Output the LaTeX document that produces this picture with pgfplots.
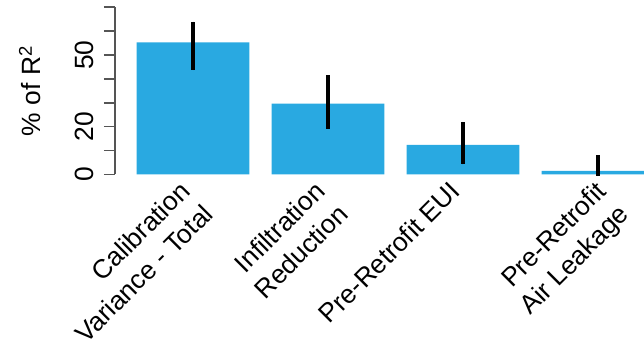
\documentclass[border=0pt]{standalone}
\usepackage{fontspec}
\setmainfont{Liberation Sans}
\usepackage{pgfplots}
\pgfplotsset{compat=1.18}
\usetikzlibrary{calc}
\definecolor{barblue}{RGB}{41,169,225}
\definecolor{axgray}{RGB}{85,85,85}
\begin{document}
\begin{tikzpicture}
\begin{axis}[
  width=264.5pt, height=88.3pt, scale only axis,
  xmin=-0.578, xmax=3.341, ymin=-2, ymax=72,
  axis line style={draw=none},
  tick pos=left,
  ytick={0,10,...,70},
  yticklabels={0,,20,,,50,,},
  xtick={-0.11,0.89,1.89,2.97},
  xticklabels={Calibration\\Variance - Total, Infiltration\\Reduction, Pre-Retrofit EUI, Pre-Retrofit\\Air Leakage},
  xtick style={draw=none},
  ytick style={draw=axgray, line width=0.8pt},
  tick align=outside,
  major tick length=5.5pt,
  font=\fontsize{13.2}{16.2}\selectfont,
  /pgf/number format/assume math mode=true,
  yticklabel style={rotate=90, anchor=south, inner sep=0pt},
  yticklabel shift=5pt,
  xticklabel style={rotate=45, anchor=north east, align=right, inner sep=0pt},
  xticklabel shift=-5.5pt,
  ylabel={\% of R\textsuperscript{2}},
  ylabel style={at={($(axis description cs:0,0.5)+(-42.5pt,0)$)}, anchor=center},
]
\addplot[ybar, bar width=0.835, fill=barblue, draw=none,
  error bars/.cd, y dir=both, y explicit, error mark=none,
  error bar style={line width=1.6pt, black}]
  coordinates {
    (0,55.3) += (0,8.7) -= (0,11.6)
    (1,29.6) += (0,12.0) -= (0,10.6)
    (2,12.3) += (0,9.7) -= (0,8.1)
    (3,1.5) += (0,6.6) -= (0,2.2)
  };
\coordinate (a0) at ({rel axis cs:0,0}|-{axis cs:0,0});
\coordinate (a70) at ({rel axis cs:0,0}|-{axis cs:0,70});
\end{axis}
\draw[axgray, line width=0.8pt] (a0) -- (a70);
\pgfresetboundingbox
\path[use as bounding box] ($(current axis.south west)+(-57.5pt,-84.45pt)$) rectangle ($(current axis.north east)+(0,1.25pt)$);
\end{tikzpicture}
\end{document}
